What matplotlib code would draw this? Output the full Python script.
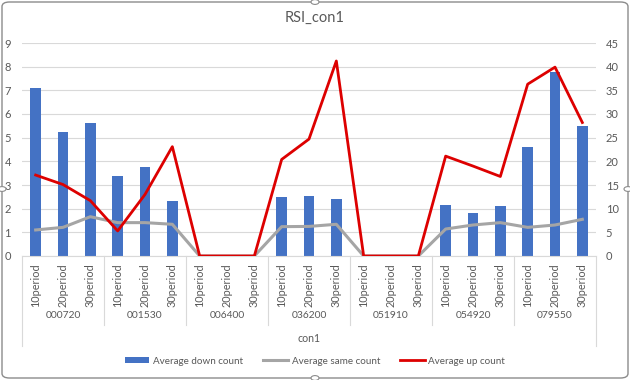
import matplotlib
matplotlib.use("Agg")
import matplotlib.pyplot as plt
import numpy as np
from matplotlib.patches import FancyBboxPatch, Patch, Circle
from matplotlib.lines import Line2D

# data
groups = ["000720", "001530", "006400", "036200", "051910", "054920", "079550"]
periods = ["10period", "20period", "30period"]
down_count = [7.08, 5.25, 5.63, 3.39, 3.75, 2.32, 0, 0, 0,
              2.48, 2.53, 2.41, 0, 0, 0, 2.14, 1.80, 2.11, 4.60, 7.79, 5.49]
same_count = [1.10, 1.21, 1.66, 1.41, 1.41, 1.34, 0, 0, 0,
              1.24, 1.25, 1.34, 0, 0, 0, 1.14, 1.31, 1.41, 1.21, 1.31, 1.55]
up_count = [17.1, 15.1, 11.7, 5.3, 13.0, 23.1, 0, 0, 0,
            20.4, 24.7, 41.2, 0, 0, 0, 21.1, 19.0, 16.8, 36.3, 39.9, 28.2]

TXT = "#595959"
GRID = "#D9D9D9"
BLUE = "#4472C4"
GRAY = "#A5A5A5"
RED = "#DD0000"

plt.rcParams["font.family"] = ["Lato", "DejaVu Sans"]

fig = plt.figure(figsize=(6.3, 3.8), dpi=100)
W, H = 630, 380
left, right, top, bottom = 22, 596, 43, 256
ax = fig.add_axes([left / W, 1 - bottom / H, (right - left) / W, (bottom - top) / H])

x = np.arange(len(down_count))
labels = periods * len(groups)

ax.bar(x, down_count, width=0.4, color=BLUE, zorder=2)
ax.plot(x, same_count, color=GRAY, lw=2.2, zorder=3)
ax.set_xlim(-0.5, len(x) - 0.5)
ax.set_ylim(0, 9)
ax.set_yticks(range(10))
ax.grid(axis="y", color=GRID, lw=0.8, zorder=0)
ax.set_axisbelow(True)
for s in ["left", "right", "top"]:
    ax.spines[s].set_visible(False)
ax.spines["bottom"].set_color(GRID)
ax.tick_params(axis="y", length=0, pad=8, labelsize=8, labelcolor=TXT)
ax.set_xticks(x)
ax.set_xticklabels(labels, rotation=90, fontsize=7.8, color=TXT)
ax.tick_params(axis="x", length=0, pad=5)

ax2 = ax.twinx()
ax2.plot(x, up_count, color=RED, lw=2.0, zorder=4)
ax2.set_ylim(0, 45)
ax2.set_yticks(range(0, 50, 5))
for s in ax2.spines.values():
    s.set_visible(False)
ax2.tick_params(axis="y", length=0, pad=7, labelsize=8, labelcolor=TXT)

# multi-level category axis
trans = ax.get_xaxis_transform()
h = bottom - top
for i, g in enumerate(groups):
    ax.text(i * 3 + 1, -(316 - bottom) / h, g, transform=trans, ha="center",
            va="center", fontsize=7.4, color=TXT)
for i in range(len(groups) + 1):
    xb = i * 3 - 0.5
    outer = i == 0 or i == len(groups)
    y_end = -(346 - bottom) / h if outer else -(325 - bottom) / h
    ax.add_line(Line2D([xb, xb], [0, y_end], transform=trans, color=GRID,
                       lw=0.8, clip_on=False))
ax.text((len(x) - 1) / 2, -(338 - bottom) / h, "con1", transform=trans,
        ha="center", va="center", fontsize=7.6, color=TXT)

fig.text(0.5, 1 - 18 / H, "RSI_con1", ha="center", va="center", fontsize=10.5,
         color=TXT)

handles = [Patch(facecolor=BLUE, edgecolor="none"),
           Line2D([], [], color=GRAY, lw=2.2),
           Line2D([], [], color=RED, lw=2.0)]
fig.legend(handles, ["Average down count", "Average same count", "Average up count"],
           loc="center", bbox_to_anchor=(0.5, 1 - 361 / H), ncol=3, frameon=False,
           fontsize=7.1, labelcolor=TXT, handlelength=2.5, handleheight=0.55,
           columnspacing=2.0, handletextpad=0.4)

# chart frame with selection handles
fig.patches.append(FancyBboxPatch((2 / W, 2 / H), 1 - 4 / W, 1 - 4 / H,
                                  boxstyle="round,pad=0,rounding_size=0.012",
                                  transform=fig.transFigure, fill=False,
                                  edgecolor="#8C8C8C", lw=1.0))
for cx, cy in [(315, 2), (2, 189), (628, 189), (315, 378)]:
    fig.patches.append(Circle((cx / W, 1 - cy / H), 4 / W, transform=fig.transFigure,
                              facecolor="white", edgecolor="#8C8C8C", lw=0.8))

fig.savefig("out.png", dpi=100)
